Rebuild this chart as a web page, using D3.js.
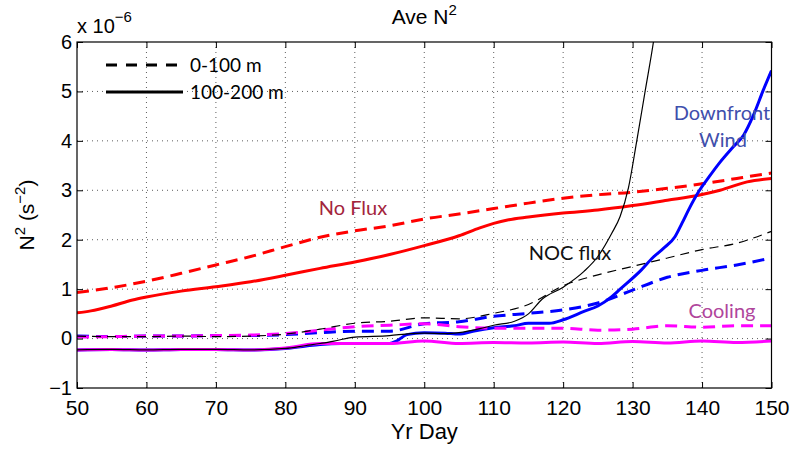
<!DOCTYPE html>
<html>
<head>
<meta charset="utf-8">
<script src="https://cdn.jsdelivr.net/npm/d3@7"></script>
<style>
  body { margin: 0; background: #fff; }
  svg { display: block; }
</style>
</head>
<body>
<svg id="chart" width="791" height="449"></svg>
<script>
'use strict';

// ticks
var dayTicks = [50, 60, 70, 80, 90, 100, 110, 120, 130, 140, 150];
var n2Ticks = [-1, 0, 1, 2, 3, 4, 5, 6];

// common 5-day sampling
var days5 = [50, 55, 60, 65, 70, 75, 80, 85, 90, 95, 100, 105, 110, 115, 120, 125, 130, 135, 140, 145, 150];

// No Flux (red)
var noFluxShallow = [0.93, 1.03, 1.16, 1.32, 1.49, 1.66, 1.86, 2.05, 2.18, 2.28, 2.42, 2.52, 2.63, 2.74, 2.84, 2.91, 2.96, 3.04, 3.13, 3.24, 3.35];
var noFluxDeepDays = [50, 52, 55, 58, 60, 65, 70, 75, 80, 85, 90, 95, 100, 105, 108, 110, 112, 115, 120, 125, 130, 135, 139.5, 142.6, 146.5, 150];
var noFluxDeep = [0.52, 0.56, 0.66, 0.78, 0.84, 0.96, 1.05, 1.15, 1.28, 1.42, 1.55, 1.7, 1.88, 2.08, 2.24, 2.33, 2.4, 2.46, 2.54, 2.6, 2.69, 2.8, 2.9, 3.0, 3.17, 3.24];

// NOC flux (black)
var nocShallow = [0.05, 0.04, 0.04, 0.05, 0.04, 0.05, 0.09, 0.19, 0.31, 0.35, 0.42, 0.4, 0.51, 0.69, 1.07, 1.29, 1.46, 1.63, 1.8, 1.93, 2.17];
var nocDeepDays = [50, 55, 60, 65, 70, 75, 80, 83, 85, 87, 90, 95, 98, 100, 103, 105, 108, 110, 113, 115, 117, 120, 123, 125, 127, 128.2, 129.4, 130.6, 131.8, 133, 134];
var nocDeep = [-0.23, -0.22, -0.23, -0.22, -0.22, -0.23, -0.2, -0.14, -0.1, -0.05, 0.03, 0.06, 0.1, 0.11, 0.1, 0.12, 0.2, 0.27, 0.35, 0.5, 0.8, 1.04, 1.36, 1.66, 2.13, 2.47, 3.05, 4.0, 5.0, 6.0, 7.0];

// Downfront Wind (blue)
var windShallow = [0.05, 0.04, 0.05, 0.05, 0.06, 0.06, 0.08, 0.12, 0.15, 0.15, 0.3, 0.34, 0.45, 0.51, 0.58, 0.72, 0.98, 1.24, 1.38, 1.49, 1.63];
var windDeepDays = [50, 55, 60, 65, 70, 75, 80, 83, 85, 88, 90, 93, 95, 96, 97.5, 100, 103, 105, 107, 110, 113, 115, 118, 120, 123, 125, 127, 128.2, 131.2, 133, 134.4, 136.1, 137.1, 138.3, 139.5, 141, 142.6, 144.5, 146, 147.4, 148.8, 150];
var windDeep = [-0.23, -0.22, -0.23, -0.22, -0.22, -0.23, -0.2, -0.15, -0.12, -0.1, -0.1, -0.1, -0.1, -0.05, 0.08, 0.12, 0.11, 0.09, 0.15, 0.22, 0.26, 0.31, 0.31, 0.38, 0.55, 0.66, 0.85, 1.0, 1.38, 1.65, 1.82, 2.06, 2.33, 2.67, 2.97, 3.27, 3.57, 3.88, 4.12, 4.52, 5.02, 5.42];

// Cooling (magenta)
var coolShallow = [0.03, 0.04, 0.05, 0.05, 0.06, 0.07, 0.1, 0.17, 0.24, 0.27, 0.3, 0.24, 0.21, 0.21, 0.21, 0.17, 0.19, 0.26, 0.23, 0.26, 0.26];
var coolDeep = [-0.23, -0.22, -0.23, -0.22, -0.22, -0.23, -0.19, -0.1, -0.1, -0.1, -0.05, -0.1, -0.08, -0.09, -0.07, -0.1, -0.06, -0.09, -0.05, -0.08, -0.05];

var zip = function (xs, ys) {
  return xs.map(function (d, i) { return [d, ys[i]]; });
};

var series = [
  { pts: zip(days5, noFluxShallow), color: '#ff0000', width: 3, dash: '12,7' },
  { pts: zip(noFluxDeepDays, noFluxDeep), color: '#ff0000', width: 3, dash: null },
  { pts: zip(days5, windShallow), color: '#0000ff', width: 3, dash: '12,7' },
  { pts: zip(windDeepDays, windDeep), color: '#0000ff', width: 3, dash: null },
  { pts: zip(days5, coolShallow), color: '#ff00ff', width: 3, dash: '12,7' },
  { pts: zip(days5, coolDeep), color: '#ff00ff', width: 3, dash: null },
  { pts: zip(days5, nocShallow), color: '#000000', width: 1.2, dash: '9,6' },
  { pts: zip(nocDeepDays, nocDeep), color: '#000000', width: 1.2, dash: null }
];

var plotL = 77, plotR = 771.5, plotT = 42, plotB = 388;
var axisFont = '"Liberation Sans", Arimo, Arial, sans-serif';
var noteFont = 'Lato, "Open Sans", sans-serif';

var svg = d3.select('#chart');
var x = d3.scaleLinear().domain([50, 150]).range([plotL, plotR]);
var y = d3.scaleLinear().domain([-1, 6]).range([plotB, plotT]);

svg.append('defs').append('clipPath').attr('id', 'plotclip')
  .append('rect')
  .attr('x', plotL).attr('y', plotT)
  .attr('width', plotR - plotL).attr('height', plotB - plotT);

// dotted grid
var grid = svg.append('g').attr('stroke', '#333').attr('stroke-width', 0.8).attr('stroke-dasharray', '1,4');
grid.selectAll('line.v')
  .data(dayTicks.slice(1, -1))
  .enter().append('line')
  .attr('class', 'v')
  .attr('x1', function (d) { return x(d); })
  .attr('x2', function (d) { return x(d); })
  .attr('y1', plotT).attr('y2', plotB);
grid.selectAll('line.h')
  .data(n2Ticks.slice(1, -1))
  .enter().append('line')
  .attr('class', 'h')
  .attr('y1', function (d) { return y(d); })
  .attr('y2', function (d) { return y(d); })
  .attr('x1', plotL).attr('x2', plotR);

// data lines
var line = d3.line()
  .x(function (d) { return x(d[0]); })
  .y(function (d) { return y(d[1]); })
  .curve(d3.curveMonotoneX);

svg.append('g').attr('clip-path', 'url(#plotclip)')
  .selectAll('path')
  .data(series)
  .enter().append('path')
  .attr('fill', 'none')
  .attr('stroke', function (d) { return d.color; })
  .attr('stroke-width', function (d) { return d.width; })
  .attr('stroke-dasharray', function (d) { return d.dash; })
  .attr('d', function (d) { return line(d.pts); });

// axes, ticks inside
var xAxis = svg.append('g')
  .attr('transform', 'translate(0,' + plotB + ')')
  .call(d3.axisBottom(x).tickValues(dayTicks).tickSize(-6).tickPadding(12).tickFormat(d3.format('d')));

var yAxis = svg.append('g')
  .attr('transform', 'translate(' + plotL + ',0)')
  .call(d3.axisLeft(y).tickValues(n2Ticks).tickSize(-6).tickPadding(5).tickFormat(d3.format('d')));

svg.append('g')
  .attr('transform', 'translate(0,' + plotT + ')')
  .call(d3.axisTop(x).tickValues(dayTicks).tickSize(-6).tickFormat(''));
svg.append('g')
  .attr('transform', 'translate(' + plotR + ',0)')
  .call(d3.axisRight(y).tickValues(n2Ticks).tickSize(-6).tickFormat(''));

svg.selectAll('.domain').remove();
svg.selectAll('.tick line').attr('stroke', '#000');
svg.selectAll('.tick text')
  .attr('fill', '#000')
  .style('font-family', axisFont);
xAxis.selectAll('text').style('font-size', '21px');
yAxis.selectAll('text').style('font-size', '20px');

svg.append('rect')
  .attr('x', plotL).attr('y', plotT)
  .attr('width', plotR - plotL).attr('height', plotB - plotT)
  .attr('fill', 'none').attr('stroke', '#000').attr('stroke-width', 1.2);

// exponent label
var expo = svg.append('text')
  .attr('x', plotL).attr('y', 33)
  .style('font-family', axisFont).style('font-size', '20px');
expo.append('tspan').text('x 10');
expo.append('tspan').attr('dy', -11).style('font-size', '15px').text('\u22126');

// title
var title = svg.append('text')
  .attr('x', (plotL + plotR) / 2).attr('y', 24)
  .attr('text-anchor', 'middle')
  .style('font-family', axisFont).style('font-size', '21px');
title.append('tspan').text('Ave N');
title.append('tspan').attr('dy', -9).style('font-size', '15px').text('2');

// axis titles
svg.append('text')
  .attr('x', (plotL + plotR) / 2).attr('y', 439)
  .attr('text-anchor', 'middle')
  .style('font-family', axisFont).style('font-size', '22px')
  .text('Yr Day');

var ylab = svg.append('text')
  .attr('transform', 'translate(34,215) rotate(-90)')
  .attr('text-anchor', 'middle')
  .style('font-family', axisFont).style('font-size', '21px');
ylab.append('tspan').text('N');
ylab.append('tspan').attr('dy', -9).style('font-size', '15px').text('2');
ylab.append('tspan').attr('dy', 9).text(' (s');
ylab.append('tspan').attr('dy', -9).style('font-size', '15px').text('\u22122');
ylab.append('tspan').attr('dy', 9).text(')');

// legend
var legendItems = [
  { label: '0-100 m', dash: '11,9', y: 65 },
  { label: '100-200 m', dash: null, y: 92 }
];
var legend = svg.append('g').selectAll('g')
  .data(legendItems)
  .enter().append('g');
legend.append('line')
  .attr('x1', 106).attr('x2', 183)
  .attr('y1', function (d) { return d.y; })
  .attr('y2', function (d) { return d.y; })
  .attr('stroke', '#000').attr('stroke-width', 3)
  .attr('stroke-dasharray', function (d) { return d.dash; });
legend.append('text')
  .attr('x', 190)
  .attr('y', function (d) { return d.y + 7; })
  .style('font-family', noteFont).style('font-size', '19px')
  .text(function (d) { return d.label; });

// annotations
var notes = [
  { text: 'No Flux', x: 353, y: 215, color: '#a3253c' },
  { text: 'NOC flux', x: 570, y: 260, color: '#111' },
  { text: 'Downfront', x: 722, y: 120, color: '#3f4fad' },
  { text: 'Wind', x: 723, y: 147, color: '#3f4fad' },
  { text: 'Cooling', x: 722, y: 318, color: '#b0459c' }
];
svg.append('g').selectAll('text')
  .data(notes)
  .enter().append('text')
  .attr('x', function (d) { return d.x; })
  .attr('y', function (d) { return d.y; })
  .attr('text-anchor', 'middle')
  .attr('fill', function (d) { return d.color; })
  .style('font-family', noteFont).style('font-size', '20px')
  .text(function (d) { return d.text; });
</script>
</body>
</html>
